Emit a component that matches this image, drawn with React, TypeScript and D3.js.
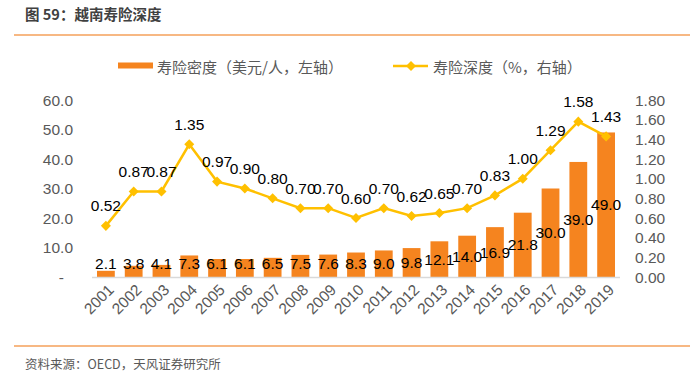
import React from "react";
import * as d3 from "d3";

const years = ["2001","2002","2003","2004","2005","2006","2007","2008","2009","2010","2011","2012","2013","2014","2015","2016","2017","2018","2019"];
const density = [2.1,3.8,4.1,7.3,6.1,6.1,6.5,7.5,7.6,8.3,9.0,9.8,12.1,14.0,16.9,21.8,30.0,39.0,49.0];
const depth = [0.52,0.87,0.87,1.35,0.97,0.90,0.80,0.70,0.70,0.60,0.70,0.62,0.65,0.70,0.83,1.00,1.29,1.58,1.43];
const leftTicks = [0,10,20,30,40,50,60];
const rightTicks = [0,0.2,0.4,0.6,0.8,1.0,1.2,1.4,1.6,1.8];

const title = "图 59：越南寿险深度";
const source = "资料来源：OECD，天风证券研究所";
const legendBar = "寿险密度（美元/人，左轴）";
const legendLine = "寿险深度（%，右轴）";

const W = 700, H = 376;
const BAR = "#F5841F";
const LINE = "#FFC000";
const AXIS_TXT = "#595959";
const NUM_FONT = "'Liberation Sans', Arial, sans-serif";
const CJK_FONT = "'Noto Sans CJK SC', sans-serif";

export default function App() {
  const x = d3.scaleBand<string>().domain(years).range([92, 620]).paddingInner(0.36).paddingOuter(0.18);
  const yL = d3.scaleLinear().domain([0, 60]).range([277, 100]);
  const yR = d3.scaleLinear().domain([0, 1.8]).range([277, 100]);
  const cx = (i: number) => (x(years[i]) as number) + x.bandwidth() / 2;
  const line = d3.line<number>().x((_, i) => cx(i)).y((d) => yR(d));
  const diamond = d3.symbol(d3.symbolDiamond2, 64)();

  return (
    <svg width={W} height={H} style={{ position: "absolute", left: 0, top: 0, background: "#fff" }}>
      <text x={25} y={20} fontFamily={CJK_FONT} fontWeight="bold" fontSize={14.5} fill="#404040">{title}</text>
      <line x1={14} x2={690} y1={35} y2={35} stroke="#F4A05A" strokeWidth={1.5} />

      {/* legend */}
      <rect x={118} y={62.5} width={35} height={6} fill={BAR} />
      <text x={157} y={66} dominantBaseline="central" fontFamily={CJK_FONT} fontSize={15} fill={AXIS_TXT}>{legendBar}</text>
      <line x1={393} x2={428} y1={66} y2={66} stroke={LINE} strokeWidth={2.5} />
      <path d={diamond} transform="translate(411,66)" fill={LINE} />
      <text x={433} y={66} dominantBaseline="central" fontFamily={CJK_FONT} fontSize={15} fill={AXIS_TXT}>{legendLine}</text>

      {/* left axis */}
      {leftTicks.map((t) => (
        <text key={"l" + t} x={t === 0 ? 64 : 73} y={yL(t)} dominantBaseline="central" textAnchor="end"
          fontFamily={NUM_FONT} fontSize={15.5} fill={AXIS_TXT}>{t === 0 ? "-" : t.toFixed(1)}</text>
      ))}
      {/* right axis */}
      {rightTicks.map((t) => (
        <text key={"r" + t} x={635} y={yR(t)} dominantBaseline="central" textAnchor="start"
          fontFamily={NUM_FONT} fontSize={15.5} fill={AXIS_TXT}>{t.toFixed(2)}</text>
      ))}

      {/* bars */}
      {density.map((v, i) => (
        <rect key={"b" + i} x={x(years[i])} y={yL(v)} width={x.bandwidth()} height={yL(0) - yL(v)} fill={BAR} />
      ))}
      <line x1={92} x2={620} y1={277.5} y2={277.5} stroke="#D9D9D9" strokeWidth={1.5} />

      {/* x labels */}
      {years.map((yr, i) => (
        <text key={"x" + yr} transform={`translate(${cx(i) + 5},${287}) rotate(-45)`} textAnchor="end"
          dominantBaseline="central" fontFamily={NUM_FONT} fontSize={15.5} fill={AXIS_TXT}>{yr}</text>
      ))}

      {/* bar labels */}
      {density.map((v, i) => (
        <text key={"bl" + i} x={cx(i)} y={Math.min((yL(v) + yL(0)) / 2, 263)} textAnchor="middle" dominantBaseline="central"
          fontFamily={NUM_FONT} fontSize={15.5} fill="#000">{v.toFixed(1)}</text>
      ))}

      {/* line */}
      <path d={line(depth) as string} fill="none" stroke={LINE} strokeWidth={2.5} />
      {depth.map((v, i) => (
        <path key={"m" + i} d={diamond} transform={`translate(${cx(i)},${yR(v)})`} fill={LINE} />
      ))}
      {depth.map((v, i) => (
        <text key={"ll" + i} x={cx(i)} y={yR(v) - 20} textAnchor="middle" dominantBaseline="central"
          fontFamily={NUM_FONT} fontSize={15.5} fill="#000">{v.toFixed(2)}</text>
      ))}

      {/* source */}
      <line x1={14} x2={690} y1={346} y2={346} stroke="#F4A05A" strokeWidth={1.5} />
      <text x={25} y={363} dominantBaseline="central" fontFamily={CJK_FONT} fontSize={12.5} fill={AXIS_TXT}>{source}</text>
    </svg>
  );
}
